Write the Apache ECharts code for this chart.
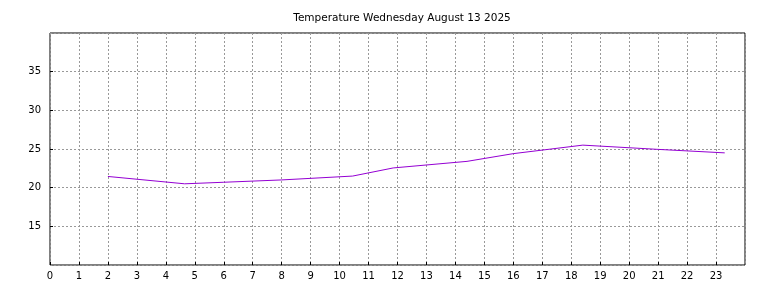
<!DOCTYPE html>
<html>
<head>
<meta charset="utf-8">
<script src="https://cdn.jsdelivr.net/npm/echarts@6/dist/echarts.min.js"></script>
<style>
  html, body { margin: 0; padding: 0; background: #fff; }
  #chart { width: 768px; height: 288px; }
</style>
</head>
<body>
<div id="chart"></div>
<script>
  // readings: hour of day, temperature
  var hours = [2.0, 4.65, 6.0, 8.0, 10.45, 11.85, 14.4, 16.0, 18.4, 21.0, 23.3]
  var temps = [21.45, 20.5, 20.7, 21.0, 21.5, 22.55, 23.4, 24.4, 25.5, 24.95, 24.5]
  var titleText = 'Temperature Wednesday August 13 2025'

  var points = hours.map(function (h, i) { return [h, temps[i]] })

  var dom = echarts.init(document.getElementById('chart'))
  var gridLine = {
    show: true,
    lineStyle: { type: [2, 2], color: '#999', width: 1 }
  }
  var option = {
    animation: false,
    backgroundColor: '#fff',
    title: {
      text: titleText,
      // centred over the plot area, not the page
      left: 397,
      textAlign: 'center',
      top: 8,
      textStyle: { fontFamily: 'DejaVu Sans', fontSize: 10.5, fontWeight: 'normal', color: '#000' }
    },
    grid: {
      left: 50,
      right: 23,
      top: 33,
      bottom: 23,
      show: true,
      borderColor: '#000',
      borderWidth: 1
    },
    xAxis: {
      type: 'value',
      min: 0,
      max: 24,
      interval: 1,
      axisLine: { show: false },
      axisTick: { show: true, inside: true, length: 3, lineStyle: { color: '#000' } },
      axisLabel: {
        showMaxLabel: false,
        margin: 6,
        fontFamily: 'DejaVu Sans',
        fontSize: 10,
        color: '#000'
      },
      splitLine: gridLine
    },
    yAxis: {
      type: 'value',
      min: 10,
      max: 40,
      interval: 5,
      axisLine: { show: false },
      axisTick: { show: true, inside: true, length: 3, lineStyle: { color: '#000' } },
      axisLabel: {
        showMinLabel: false,
        showMaxLabel: false,
        margin: 9,
        fontFamily: 'DejaVu Sans',
        fontSize: 10,
        color: '#000'
      },
      splitLine: gridLine
    },
    series: [{
      type: 'line',
      data: points,
      showSymbol: false,
      lineStyle: { color: '#9400d3', width: 1 },
      itemStyle: { color: '#9400d3' }
    }]
  }
  dom.setOption(option)
</script>
</body>
</html>
